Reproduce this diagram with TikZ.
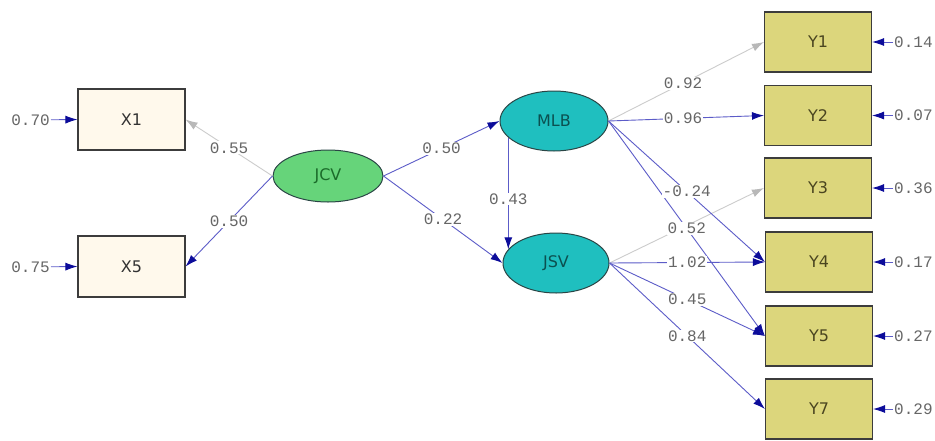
\documentclass[tikz,border=0pt]{standalone}
\usepackage{fontspec}
\setmainfont{DejaVu Sans}
\newfontfamily\numfont{Liberation Mono}
\usetikzlibrary{arrows.meta,shapes.geometric}
\definecolor{boxline}{HTML}{3C3C3C}
\definecolor{xfill}{HTML}{FFF9EC}
\definecolor{yfill}{HTML}{DCD67C}
\definecolor{jcvfill}{HTML}{66D47A}
\definecolor{tealfill}{HTML}{1FBFBF}
\definecolor{ellline}{HTML}{2A4545}
\definecolor{xtext}{HTML}{333333}
\definecolor{ytext}{HTML}{4A4520}
\definecolor{jcvtext}{HTML}{1B6B2A}
\definecolor{tealtext}{HTML}{0B5050}
\definecolor{pathblue}{HTML}{5C5CC8}
\definecolor{headblue}{HTML}{0C0C9A}
\definecolor{fixgray}{HTML}{CCCCCC}
\definecolor{headgray}{HTML}{B8B8B8}
\definecolor{lblgray}{HTML}{666666}
\begin{document}
\begin{tikzpicture}[x=1pt,y=-1pt,
  obsx/.style={draw=boxline, line width=1.1pt, fill=xfill, minimum width=107pt, minimum height=61pt, inner sep=0pt, text=xtext, font=\fontsize{16}{16}\selectfont},
  obsy/.style={draw=boxline, line width=1.1pt, fill=yfill, minimum width=107pt, minimum height=60pt, inner sep=0pt, text=ytext, font=\fontsize{16}{16}\selectfont},
  latent/.style={ellipse, draw=ellline, line width=1pt, inner sep=0pt, font=\fontsize{16}{16}\selectfont},
  bluepath/.style={draw=pathblue, line width=0.9pt, -{Latex[length=12pt,width=8pt,color=headblue]}},
  graypath/.style={draw=fixgray, line width=0.9pt, -{Latex[length=12pt,width=8pt,color=headgray]}},
  lbl/.style={fill=white, inner sep=1pt, text=lblgray, font=\numfont\fontsize{16}{16}\selectfont},
  errlbl/.style={inner sep=1pt, text=lblgray, font=\numfont\fontsize{16}{16}\selectfont}]
\useasboundingbox (0,0) rectangle (935,440);
\fill[white] (0,0) rectangle (935,440);

% observed X
\node[obsx] (X1) at (131.5,119.5) {X1};
\node[obsx] (X5) at (131.5,266.5) {X5};
% latent
\node[latent, fill=jcvfill, text=jcvtext, minimum width=110pt, minimum height=52pt] (JCV) at (328,176) {JCV};
\node[latent, fill=tealfill, text=tealtext, minimum width=108pt, minimum height=60pt] (MLB) at (554,121) {MLB};
\node[latent, fill=tealfill, text=tealtext, minimum width=106pt, minimum height=60pt] (JSV) at (556,263) {JSV};
% observed Y
\node[obsy] (Y1) at (818,42) {Y1};
\node[obsy] (Y2) at (818,115.5) {Y2};
\node[obsy] (Y3) at (818,188) {Y3};
\node[obsy] (Y4) at (819,262) {Y4};
\node[obsy] (Y5) at (819,336) {Y5};
\node[obsy] (Y7) at (819,409) {Y7};

% error terms
\node[errlbl, anchor=east] (eX1) at (51,120) {0.70};
\node[errlbl, anchor=east] (eX5) at (51,267) {0.75};
\node[errlbl, anchor=west] (eY1) at (893,42) {0.14};
\node[errlbl, anchor=west] (eY2) at (893,115.5) {0.07};
\node[errlbl, anchor=west] (eY3) at (893,188) {0.36};
\node[errlbl, anchor=west] (eY4) at (893,262) {0.17};
\node[errlbl, anchor=west] (eY5) at (893,336) {0.27};
\node[errlbl, anchor=west] (eY7) at (893,409) {0.29};
\draw[bluepath] (eX1) -- (X1.west);
\draw[bluepath] (eX5) -- (X5.west);
\foreach \k in {1,2,3,4,5,7} {\draw[bluepath] (eY\k) -- (Y\k.east);}

% fixed (gray) paths
\draw[graypath] (JCV.west) -- (X1.east);
\draw[graypath] (MLB.east) -- (Y1.west);
\draw[graypath] (JSV.east) -- (Y3.west);
% free paths
\draw[bluepath] (JCV.west) -- (X5.east);
\draw[bluepath] (JCV.east) -- (MLB.west);
\draw[bluepath] (JCV.east) -- (JSV.west);
\draw[bluepath] (MLB.200) -- (MLB.200 |- JSV.164);
\draw[bluepath] (MLB.east) -- (Y2.west);
\draw[bluepath] (MLB.east) -- (Y4.west);
\draw[bluepath] (MLB.east) -- (Y5.west);
\draw[bluepath] (JSV.east) -- (Y4.west);
\draw[bluepath] (JSV.east) -- (Y5.west);
\draw[bluepath] (JSV.east) -- (Y7.west);

% labels on top
\path (JCV.west) -- (X1.east) node[lbl, pos=0.5] {0.55};
\path (JCV.west) -- (X5.east) node[lbl, pos=0.5] {0.50};
\path (JCV.east) -- (MLB.west) node[lbl, pos=0.5] {0.50};
\path (JCV.east) -- (JSV.west) node[lbl, pos=0.5] {0.22};
\path (MLB.200) -- (MLB.200 |- JSV.164) node[lbl, pos=0.55] {0.43};
\path (MLB.east) -- (Y1.west) node[lbl, pos=0.48] {0.92};
\path (MLB.east) -- (Y2.west) node[lbl, pos=0.48] {0.96};
\path (MLB.east) -- (Y4.west) node[lbl, pos=0.5] {-0.24};
\path (MLB.east) -- (Y5.west) node[lbl, pos=0.5] {0.52};
\path (JSV.east) -- (Y4.west) node[lbl, pos=0.5] {1.02};
\path (JSV.east) -- (Y5.west) node[lbl, pos=0.5] {0.45};
\path (JSV.east) -- (Y7.west) node[lbl, pos=0.5] {0.84};
\end{tikzpicture}
\end{document}
